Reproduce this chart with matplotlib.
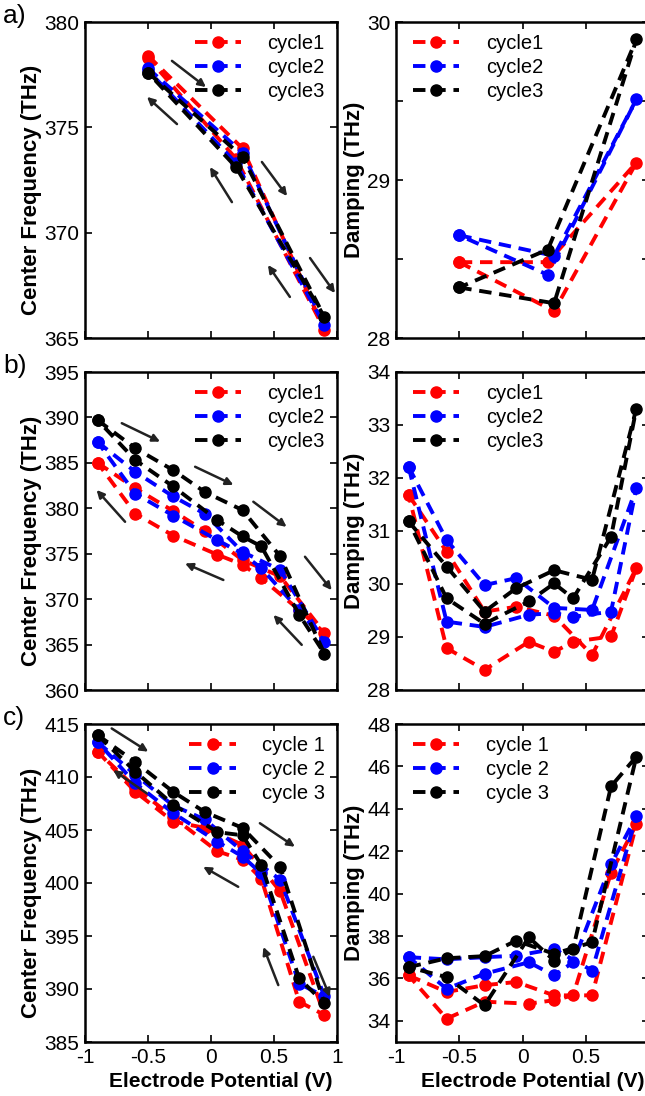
import matplotlib
matplotlib.use("Agg")
import matplotlib.pyplot as plt

plt.rcParams['font.family'] = ['Liberation Sans', 'DejaVu Sans']

# potentials (V): forward sweep then backward sweep
x_a = [-0.5, 0.25, 0.9, 0.2, -0.5]
x_bc = [-0.9, -0.6, -0.3, -0.05, 0.25, 0.55, 0.9, 0.7, 0.4, 0.25, 0.05, -0.3, -0.6, -0.9]

# a) center frequency / damping (THz)
a_freq_c1 = [378.4, 374.0, 365.4, 373.5, 378.3]
a_freq_c2 = [377.8, 373.8, 365.6, 373.3, 377.7]
a_freq_c3 = [377.6, 373.6, 366.0, 373.1, 377.6]
a_damp_c1 = [28.48, 28.17, 29.11, 28.48, 28.48]
a_damp_c2 = [28.65, 28.52, 29.51, 28.40, 28.65]
a_damp_c3 = [28.32, 28.22, 29.89, 28.56, 28.32]

# b)
b_freq_c1 = [385.0, 382.2, 379.7, 377.5, 374.3, 372.5, 366.3, 368.8, 372.3, 373.8, 374.9, 377.0, 379.4, 385.0]
b_freq_c2 = [387.3, 384.0, 381.3, 379.4, 375.2, 373.2, 365.3, 368.8, 373.4, 375.0, 376.5, 379.2, 381.6, 387.3]
b_freq_c3 = [389.7, 386.6, 384.2, 381.8, 379.8, 374.7, 364.0, 368.3, 375.8, 376.9, 378.7, 382.4, 385.3, 389.7]
b_damp_c1 = [31.68, 30.61, 29.48, 29.57, 29.40, 28.66, 30.30, 29.01, 28.91, 28.72, 28.91, 28.38, 28.79, 31.68]
b_damp_c2 = [32.21, 30.83, 29.98, 30.11, 29.55, 29.51, 31.81, 29.48, 29.38, 29.45, 29.42, 29.19, 29.29, 32.21]
b_damp_c3 = [31.18, 30.33, 29.48, 29.92, 30.26, 30.08, 33.31, 30.89, 29.73, 30.01, 29.67, 29.25, 29.73, 31.18]

# c)
c_freq_c1 = [412.4, 408.6, 405.8, 405.2, 403.6, 399.2, 387.55, 388.8, 400.4, 402.2, 403.0, 406.2, 409.0, 412.4]
c_freq_c2 = [413.3, 410.2, 407.3, 406.0, 403.0, 400.3, 389.3, 390.5, 400.9, 402.5, 403.9, 406.6, 409.4, 413.3]
c_freq_c3 = [413.96, 411.4, 408.6, 406.7, 405.2, 401.5, 388.65, 391.0, 401.7, 404.5, 404.8, 407.4, 410.5, 413.96]
c_damp_c1 = [36.14, 35.36, 35.68, 35.83, 35.2, 35.2, 43.26, 40.99, 35.2, 34.97, 34.81, 34.9, 34.1, 36.14]
c_damp_c2 = [37.0, 36.9, 37.0, 37.07, 37.39, 36.37, 43.65, 41.38, 36.76, 36.14, 36.76, 36.22, 35.51, 37.0]
c_damp_c3 = [36.53, 36.95, 37.05, 37.78, 37.16, 37.70, 46.46, 45.06, 37.39, 36.84, 37.94, 34.73, 36.06, 36.53]

labels_ab = ['cycle1', 'cycle2', 'cycle3']
labels_c = ['cycle 1', 'cycle 2', 'cycle 3']
colors = ['#ff0000', '#0000ff', '#000000']

# sweep arrows (axes fraction): start -> end
arrows_a = [((0.345, 0.877), (0.480, 0.794)), ((0.702, 0.557), (0.802, 0.449)),
            ((0.893, 0.253), (0.992, 0.142)), ((0.365, 0.677), (0.246, 0.763)),
            ((0.583, 0.430), (0.496, 0.541)), ((0.813, 0.130), (0.726, 0.231))]
arrows_b = [((0.146, 0.839), (0.298, 0.781)), ((0.437, 0.702), (0.589, 0.645)),
            ((0.668, 0.592), (0.800, 0.513)), ((0.873, 0.419), (0.979, 0.314)),
            ((0.159, 0.529), (0.046, 0.629)), ((0.549, 0.346), (0.397, 0.398)),
            ((0.860, 0.142), (0.748, 0.236))]
arrows_c = [((0.106, 0.986), (0.251, 0.913)), ((0.694, 0.688), (0.833, 0.614)),
            ((0.906, 0.268), (0.972, 0.142)), ((0.245, 0.782), (0.112, 0.855)),
            ((0.608, 0.488), (0.469, 0.551)), ((0.767, 0.179), (0.708, 0.299))]

W, H = 645, 1096
fig = plt.figure(figsize=(W / 100, H / 100), dpi=100)

def box(l, t, r, b):
    return [l / W, 1 - b / H, (r - l) / W, (b - t) / H]

rows = [(22, 338), (372, 690), (724, 1042)]
L = (85, 337)
R = (396, 649)

def style(ax, ylim, yticks, ylabels, bottom, xlabels):
    ax.set_xlim(-1, 1)
    ax.set_ylim(*ylim)
    ax.set_xticks([-1, -0.5, 0, 0.5, 1])
    if bottom:
        ax.set_xticklabels(xlabels)
        ax.set_xlabel('Electrode Potential (V)', fontsize=15, fontweight='bold')
        ax.xaxis.set_label_coords(0.54, -0.095)
    else:
        ax.set_xticklabels([])
    ax.set_yticks(yticks)
    ax.set_yticklabels(ylabels)
    ax.tick_params(direction='in', length=5, width=1.2, top=True, right=True,
                   labelsize=15, pad=4)
    for s in ax.spines.values():
        s.set_linewidth(1.8)

def draw(ax, x, series, labels, loc, anchor):
    for y, c, lab in zip(series, colors, labels):
        ax.plot(x, y, color=c, lw=2.8, ls=(0, (3.2, 2.0)), marker='o', ms=8,
                label=lab, dash_capstyle='butt')
    ax.legend(loc=loc, bbox_to_anchor=anchor, frameon=False, fontsize=14.5,
              handlelength=2.3, handletextpad=1.3, labelspacing=0.25,
              borderaxespad=0.2)

def arrows(ax, arr):
    for (s, e) in arr:
        ax.annotate('', xy=e, xytext=s, xycoords='axes fraction',
                    textcoords='axes fraction',
                    arrowprops=dict(arrowstyle='-|>', color='#222222', lw=1.8,
                                    mutation_scale=11, shrinkA=0, shrinkB=0))

panels = [
    ('a)', x_a, [a_freq_c1, a_freq_c2, a_freq_c3], [a_damp_c1, a_damp_c2, a_damp_c3],
     labels_ab, (365, 380), [365, 370, 375, 380], ['365', '370', '375', '380'],
     (28, 30), [28, 28.5, 29, 29.5, 30], ['28', '', '29', '', '30'], arrows_a),
    ('b)', x_bc, [b_freq_c1, b_freq_c2, b_freq_c3], [b_damp_c1, b_damp_c2, b_damp_c3],
     labels_ab, (360, 395), list(range(360, 396, 5)), [str(v) for v in range(360, 396, 5)],
     (28, 34), list(range(28, 35)), [str(v) for v in range(28, 35)], arrows_b),
    ('c)', x_bc, [c_freq_c1, c_freq_c2, c_freq_c3], [c_damp_c1, c_damp_c2, c_damp_c3],
     labels_c, (385, 415), list(range(385, 416, 5)), [str(v) for v in range(385, 416, 5)],
     (33, 48), list(range(34, 49, 2)), [str(v) for v in range(34, 49, 2)], arrows_c),
]

for i, (tag, x, freq, damp, labs, fl, ft, ftl, dl, dt, dtl, arr) in enumerate(panels):
    top, bot = rows[i]
    bottom = (i == 2)
    axl = fig.add_axes(box(L[0], top, L[1], bot))
    draw(axl, x, freq, labs, 'upper right', (1.0, 1.0))
    arrows(axl, arr)
    style(axl, fl, ft, ftl, bottom, ['-1', '-0.5', '0', '0.5', '1'])
    axl.set_ylabel('Center Frequency (THz)', fontsize=16, fontweight='bold')
    axl.yaxis.set_label_coords(-0.17, 0.47)

    axr = fig.add_axes(box(R[0], top, R[1], bot))
    draw(axr, x, damp, labs, 'upper left', (0.02, 1.0))
    # right edge of this column falls just outside the picture
    style(axr, dl, dt, dtl, bottom, ['-1', '-0.5', '0', '0.5', ''])
    axr.set_ylabel('Damping (THz)', fontsize=16, fontweight='bold')
    axr.yaxis.set_label_coords(-0.123, 0.5)

    fig.text(3 / W, 1 - (top - 6) / H, tag, fontsize=19, ha='left', va='center')

fig.savefig('out.png', dpi=100)
